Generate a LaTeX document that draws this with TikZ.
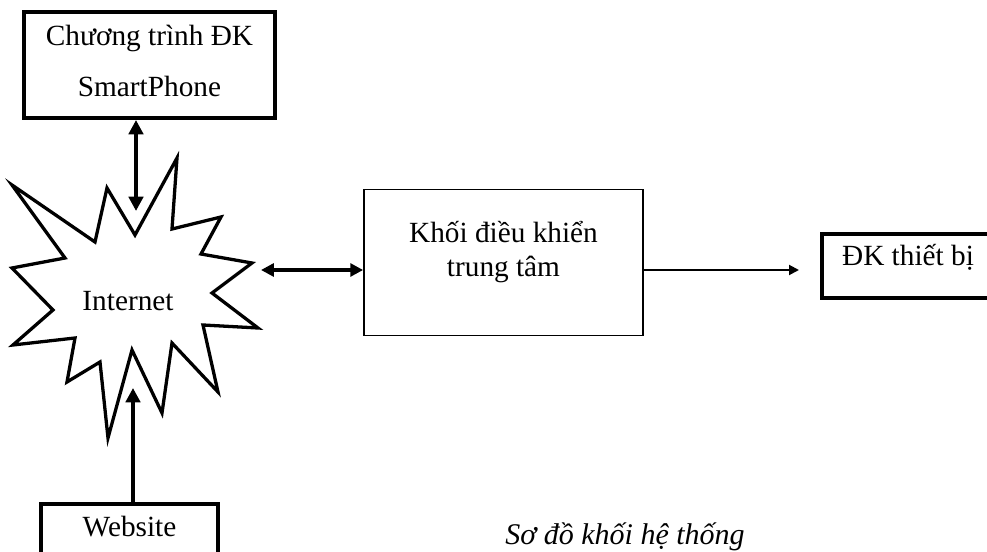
\documentclass[tikz,border=0pt]{standalone}
\usepackage{fontspec}
\setmainfont{Liberation Serif}
\usetikzlibrary{arrows.meta}

\begin{document}
\begin{tikzpicture}[x=0.7pt,y=-0.7pt,
  font=\fontsize{20.5}{24}\selectfont,
  >={Triangle[length=10pt,width=10pt]},
  khung/.style={draw,line width=2.8pt,inner sep=0pt,align=center},
  tam/.style={draw,line width=1.2pt,inner sep=0pt,align=center},
  noi/.style={line width=2.5pt}]
\clip (0,0) rectangle (987,552);

%khoi
\node[khung,minimum width=175.7pt,minimum height=74.2pt,font=\fontsize{20.5}{35.7}\selectfont,text height=49.8pt,text depth=5pt] (sp) at (149.5,65) {Chương trình ĐK\\SmartPhone};
\node[tam,minimum width=195.3pt,minimum height=102.2pt,text height=25.3pt,text depth=5pt] (kh) at (503.5,262.5) {Khối điều khiển\\trung tâm};
\node[khung,minimum width=120.4pt,minimum height=44.8pt,text height=8pt,text depth=8pt] (dv) at (908,266) {ĐK thiết bị};
\node[khung,minimum width=123.9pt,minimum height=42pt,text height=12pt,text depth=7.8pt] (web) at (129.5,534) {Website};
%fin

%internet
\draw[line width=2.3pt] (12,185) -- (95,242) -- (107,188) -- (135,235) -- (177,158) -- (172,229) -- (221,217) -- (201,254) -- (252,263) -- (212,293) -- (258,328) -- (203,325) -- (218,392) -- (172,343) -- (162,413) -- (132,350) -- (108,438) -- (100,362) -- (67,382) -- (75,338) -- (13,345) -- (53,310) -- (12,268) -- (65,258) -- cycle;
\node (inet) at (128,301) {Internet};
\coordinate (itop) at (136,211);
\coordinate (iright) at (261,270);
\coordinate (ibot) at (133,388);
\coordinate (dvtip) at (799,270);
%fin

%mui ten
\draw[noi,<->] (itop |- sp.south) -- (itop);
\draw[noi,line width=2.3pt,<->,>={Triangle[length=9pt,width=9pt]}] (iright) -- (iright -| kh.west);
\draw[noi,line width=1.4pt,->,>={Triangle[length=7pt,width=7pt]}] (dvtip -| kh.east) -- (dvtip);
\draw[noi,line width=2.8pt,->] (ibot |- web.north) -- (ibot);
%fin

\node[font=\fontsize{21}{24}\selectfont\itshape] (cap) at (625,537) {Sơ đồ khối hệ thống};
\end{tikzpicture}
\end{document}
